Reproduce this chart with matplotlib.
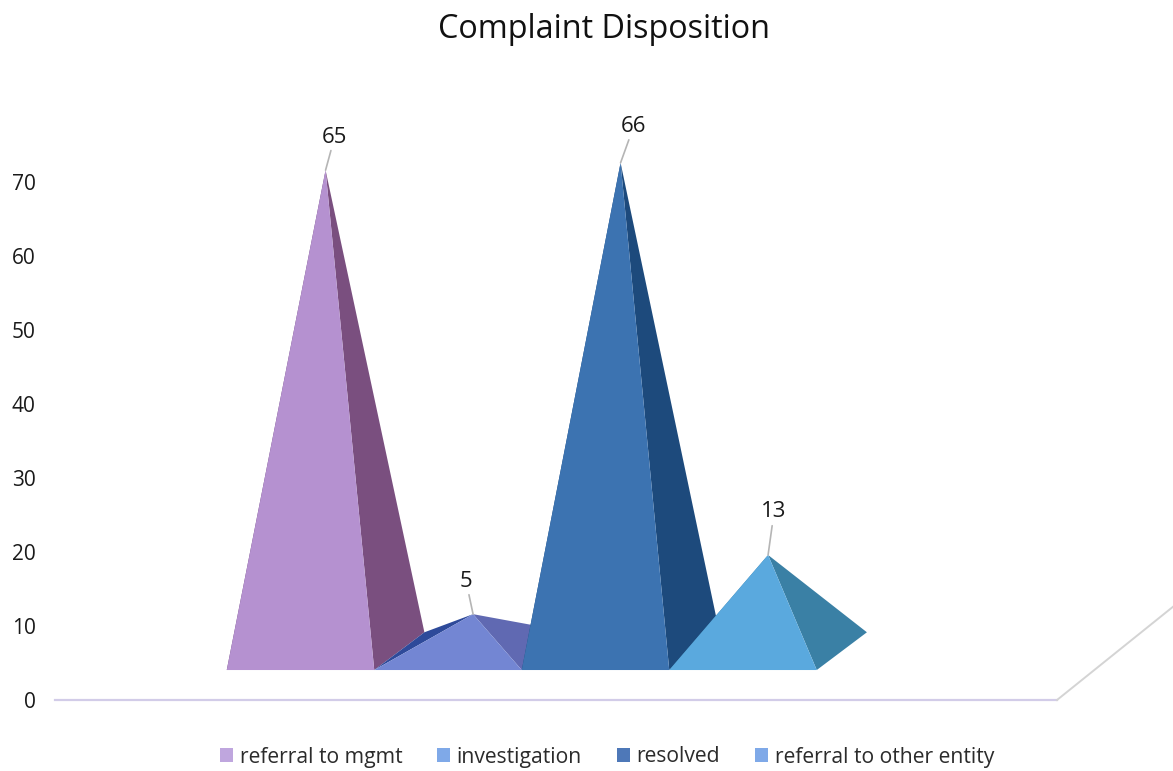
import matplotlib
matplotlib.use("Agg")
import matplotlib.pyplot as plt
from matplotlib.patches import Patch, Polygon

plt.rcParams['font.family'] = ['Open Sans', 'DejaVu Sans']

categories = ["referral to mgmt", "investigation", "resolved", "referral to other entity"]
counts = [65, 5, 66, 13]
y_ticks = [0, 10, 20, 30, 40, 50, 60, 70]

front_colors = ["#B591D0", "#7386D3", "#3C73B1", "#5AA9DE"]
right_colors = ["#7A4F7F", "#6069B2", "#1D4A7C", "#3A80A5"]
left_colors = ["#6A4478", "#2E4A9A", "#1D4A7C", "#3A80A5"]
legend_colors = ["#BFA6DE", "#7FA9E8", "#4E78B8", "#7FA9E8"]

# pixel offsets of the data labels from each apex
label_dx = [9, -7, 13, 6]
label_dy = [33, 33, 36, 43]

W, H = 1173, 771
fig = plt.figure(figsize=(W / 100, H / 100), dpi=100)
ax = fig.add_axes([55 / W, (H - 700) / H, (W - 55) / W, 620 / H])

# 147.5 px per category, 7.4 px per count
ax.set_xlim((55 - 300.5) / 147.5, (W - 300.5) / 147.5)
ax.set_ylim(0, 620 / 7.4)

# fake 3d floor offsets, in data units
half_w = 0.5
base = 4.05
depth_x = 0.34
depth_y = 5.1

for i, v in enumerate(counts):
    lf = (i - half_w, base)
    rf = (i + half_w, base)
    lb = (i - half_w + depth_x, base + depth_y)
    rb = (i + half_w + depth_x, base + depth_y)
    apex = (i + depth_x / 2, v + base + depth_y / 2)

    ax.add_patch(Polygon([lf, lb, apex], closed=True, fc=left_colors[i], ec="none"))
    ax.add_patch(Polygon([rf, rb, apex], closed=True, fc=right_colors[i], ec="none"))
    ax.add_patch(Polygon([lf, rf, apex], closed=True, fc=front_colors[i], ec="none"))

    ax.annotate(str(v), xy=apex, xytext=(label_dx[i], label_dy[i]),
                textcoords="offset pixels", ha="center", va="center",
                fontsize=16, color="#1a1a1a",
                arrowprops=dict(arrowstyle="-", color="#b5b5b5", lw=1.2,
                                patchA=None, shrinkA=10, shrinkB=0))

# floor edge
x0, x1 = ax.get_xlim()
corner = (1057 - 300.5) / 147.5
ax.plot([x0, corner], [0, 0], color="#D2CCE8", lw=1.6, clip_on=False)
ax.plot([corner, x1], [0, 12.6], color="#D4D4D4", lw=1.4, clip_on=False)

ax.set_xticks([])
ax.set_yticks(y_ticks)
ax.tick_params(axis="y", length=0, pad=14, labelsize=15, labelcolor="#1a1a1a")
for s in ax.spines.values():
    s.set_visible(False)

fig.text(604 / W, 1 - 29 / H, "Complaint Disposition", ha="center", va="center",
         fontsize=23.3, color="#111111")

handles = [Patch(fc=c, ec="none") for c in legend_colors]
fig.legend(handles, categories, ncol=4, loc="center", bbox_to_anchor=(607 / W, 1 - 757 / H),
           frameon=False, fontsize=15.2, labelcolor="#2b2b2b",
           handlelength=0.6, handleheight=0.6, handletextpad=0.33,
           columnspacing=1.65)

fig.savefig("out.png", dpi=100)
